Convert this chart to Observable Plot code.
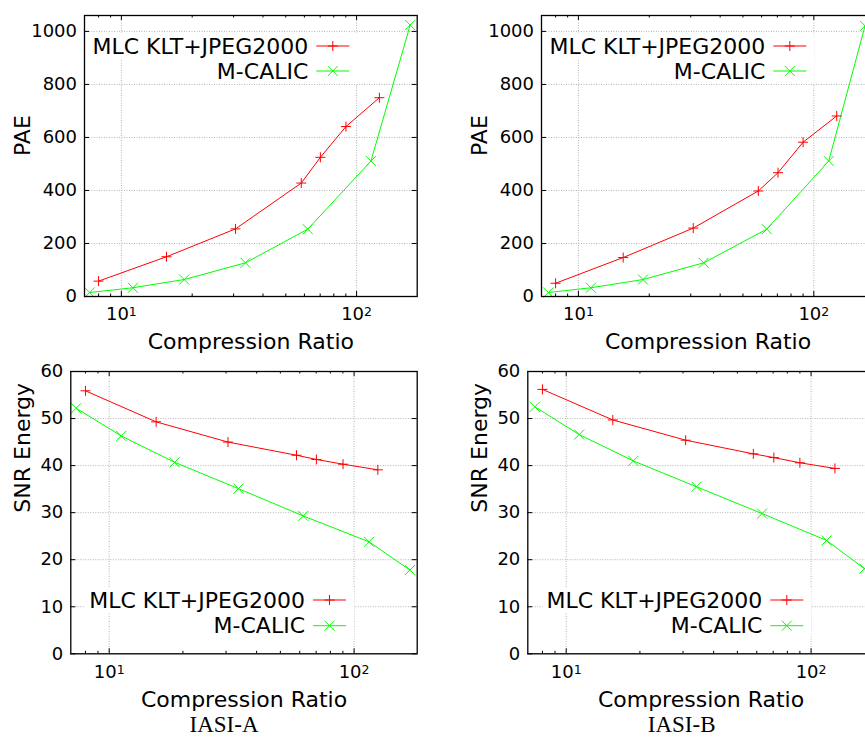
<!DOCTYPE html>
<html><head><meta charset="utf-8">
<script src="https://cdn.jsdelivr.net/npm/d3@7"></script>
<script src="https://cdn.jsdelivr.net/npm/@observablehq/plot@0.6"></script>
<style>
body{margin:0;background:#fff;overflow:hidden}
#wrap{position:relative;width:865px;height:738px;overflow:hidden;background:#fff}
.panel{position:absolute}
.cap{position:absolute;width:200px;text-align:center;font-family:"Liberation Serif","Times New Roman",serif;font-size:23px;line-height:23px;color:#000}
</style></head><body><div id="wrap"></div>
<script>
// ---- data ----
const seriesNames = ["MLC KLT+JPEG2000", "M-CALIC"];
const xTickValues = [10, 100];
const xMinorValues = [8, 9, 20, 30, 40, 50, 60, 70, 80, 90];
const paeTicks = [0, 200, 400, 600, 800, 1000];
const snrTicks = [0, 10, 20, 30, 40, 50, 60];
const panelCaptions = ["IASI-A", "IASI-B"];
const xLabel = "Compression Ratio";
const yLabels = ["PAE", "SNR Energy"];

// IASI-A
const ratioA_mlc   = [8.0, 15.55, 30.55, 58.2, 70.15, 90.1, 125.0];
const ratioA_calic = [7.33, 11.2, 18.5, 33.7, 62.0, 115.1, 169.0];
const paeA_mlc     = [58, 150, 255, 428, 525, 641, 750];
const paeA_calic   = [15, 33, 64, 127, 254, 511, 1024];
const snrA_mlc     = [55.9, 49.3, 45.0, 42.2, 41.3, 40.3, 39.1];
const snrA_calic   = [52.2, 46.3, 40.7, 35.1, 29.3, 23.8, 17.8];

// IASI-B
const ratioB_mlc   = [8.0, 15.5, 30.75, 58.1, 70.45, 90.0, 125.1];
const ratioB_calic = [7.45, 11.3, 18.8, 34.05, 63.1, 115.7, 165.0];
const paeB_mlc     = [50, 147, 258, 398, 467, 582, 681];
const paeB_calic   = [15, 33, 64, 127, 254, 511, 1021];
const snrB_mlc     = [56.2, 49.7, 45.4, 42.5, 41.7, 40.6, 39.4];
const snrB_calic   = [52.5, 46.6, 41.0, 35.5, 29.8, 24.1, 18.1];

// ---- styling ----
const xDomain = [6.97, 181];
const RED = "#ff0000", GREEN = "#00ff00";
const plusSym = {draw(ctx, size) { const r = Math.sqrt(size / Math.PI); ctx.moveTo(-r, 0); ctx.lineTo(r, 0); ctx.moveTo(0, -r); ctx.lineTo(0, r); }};
const timesSym = {draw(ctx, size) { const r = Math.sqrt(size / Math.PI); ctx.moveTo(-r, -r); ctx.lineTo(r, r); ctx.moveTo(-r, r); ctx.lineTo(r, -r); }};

const wrap = document.getElementById("wrap");

function drawPanel(spec) {
  const fw = spec.width - spec.ml - spec.mr, fh = spec.height - spec.mt - spec.mb;
  const mk = (xs, ys) => xs.map((x, i) => ({x, y: ys[i]}));
  const d1 = mk(spec.x1, spec.y1), d2 = mk(spec.x2, spec.y2);
  const grid = {stroke: "#b4b4b4", strokeOpacity: 1, strokeDasharray: "1,1.5", strokeWidth: 1};
  const svg = Plot.plot({
    width: spec.width, height: spec.height,
    marginLeft: spec.ml, marginRight: spec.mr, marginTop: spec.mt, marginBottom: spec.mb,
    style: {fontFamily: "DejaVu Sans", fontSize: "18px", color: "black", background: "white", maxWidth: "none", overflow: "hidden"},
    x: {type: "log", domain: xDomain},
    y: {domain: spec.yDomain},
    marks: [
      Plot.gridX({ticks: xTickValues, ...grid}),
      Plot.gridY({ticks: spec.yTicks, ...grid}),
      Plot.tickX(xTickValues, {x: d => d, insetTop: fh - 5, stroke: "black"}),
      Plot.tickX(xTickValues, {x: d => d, insetBottom: fh - 5, stroke: "black"}),
      Plot.tickX(xMinorValues, {x: d => d, insetTop: fh - 2.5, stroke: "black"}),
      Plot.tickX(xMinorValues, {x: d => d, insetBottom: fh - 2.5, stroke: "black"}),
      Plot.tickY(spec.yTicks, {y: d => d, insetRight: fw - 5, stroke: "black"}),
      Plot.tickY(spec.yTicks, {y: d => d, insetLeft: fw - 5, stroke: "black"}),
      Plot.axisX({ticks: xTickValues, tickFormat: d => "10^" + Math.round(Math.log10(d)), tickSize: 0, tickPadding: 11, label: null}),
      Plot.axisY({ticks: spec.yTicks, tickFormat: d => String(d), tickSize: 0, tickPadding: 7.5, label: null}),
      Plot.line(d1, {x: "x", y: "y", stroke: RED, strokeWidth: 1}),
      Plot.line(d2, {x: "x", y: "y", stroke: GREEN, strokeWidth: 1}),
      Plot.dot(d1, {x: "x", y: "y", symbol: plusSym, r: 5, stroke: RED, fill: "none", strokeWidth: 1}),
      Plot.dot(d2, {x: "x", y: "y", symbol: timesSym, r: 5, stroke: GREEN, fill: "none", strokeWidth: 1}),
      Plot.frame({stroke: "black", strokeWidth: 1.3}),
      Plot.text([xLabel], {frameAnchor: "bottom", dy: 52.7, lineAnchor: "bottom", fontSize: 22}),
      Plot.text([spec.yLabel], {frameAnchor: "left", dx: spec.ylabDx, rotate: -90, fontSize: 22, lineAnchor: "middle"})
    ]
  });
  const holder = document.createElement("div");
  holder.className = "panel";
  holder.style.left = spec.left + "px";
  holder.style.top = spec.top + "px";
  holder.style.width = spec.width + "px";
  holder.style.height = spec.height + "px";
  holder.appendChild(svg);
  wrap.appendChild(holder);

  // superscript exponents on the x tick labels
  d3.select(svg).selectAll('g[aria-label="x-axis tick label"] text').each(function () {
    const parts = this.textContent.split("^");
    const s = d3.select(this);
    s.text(null);
    s.append("tspan").text(parts[0]);
    s.append("tspan").attr("dy", -4).attr("font-size", 12.5).text(parts[1]);
  });

  // key
  const key = d3.select(svg).append("g").attr("font-family", "DejaVu Sans").attr("font-size", 22);
  const boxes = key.append("g");
  const colors = [RED, GREEN];
  const syms = ["M-5,0H5M0,-5V5", "M-5,-5L5,5M-5,5L5,-5"];
  seriesNames.forEach((name, i) => {
    const cy = spec.mt + spec.legTop + i * spec.legGap;
    const tx = spec.ml + spec.legX;
    const t = key.append("text").attr("x", tx).attr("y", cy + 7.5).attr("text-anchor", "end").attr("fill", "black").text(name);
    const w = t.node().getComputedTextLength();
    const x0 = Math.max(spec.ml + 1, tx - w - 4);
    boxes.append("rect").attr("x", x0).attr("y", cy - 13).attr("width", tx + 49 - x0).attr("height", 26).attr("fill", "white");
    key.append("line").attr("x1", tx + 8).attr("x2", tx + 41).attr("y1", cy).attr("y2", cy).attr("stroke", colors[i]).attr("stroke-width", 1);
    key.append("path").attr("transform", `translate(${tx + 24.5},${cy})`).attr("d", syms[i]).attr("stroke", colors[i]).attr("fill", "none").attr("stroke-width", 1);
  });
}

const panels = [
  {left: 0, top: 0, width: 430, height: 355, ml: 84, mr: 13.3, mt: 15, mb: 59,
   yDomain: [0, 1060], yTicks: paeTicks, yLabel: yLabels[0], ylabDx: -61.3,
   x1: ratioA_mlc, y1: paeA_mlc, x2: ratioA_calic, y2: paeA_calic, legX: 224.3, legTop: 31, legGap: 25},
  {left: 430, top: 0, width: 445, height: 355, ml: 111, mr: 1, mt: 15, mb: 59,
   yDomain: [0, 1060], yTicks: paeTicks, yLabel: yLabels[0], ylabDx: -61.7,
   x1: ratioB_mlc, y1: paeB_mlc, x2: ratioB_calic, y2: paeB_calic, legX: 224.3, legTop: 31, legGap: 25},
  {left: 0, top: 355, width: 430, height: 358, ml: 70.3, mr: 13.3, mt: 16, mb: 59.7,
   yDomain: [0, 60], yTicks: snrTicks, yLabel: yLabels[1], ylabDx: -47.6,
   x1: ratioA_mlc, y1: snrA_mlc, x2: ratioA_calic, y2: snrA_calic, legX: 234.7, legTop: 229, legGap: 25.7},
  {left: 430, top: 355, width: 445, height: 358, ml: 97.3, mr: 1.3, mt: 16, mb: 59.7,
   yDomain: [0, 60], yTicks: snrTicks, yLabel: yLabels[1], ylabDx: -48,
   x1: ratioB_mlc, y1: snrB_mlc, x2: ratioB_calic, y2: snrB_calic, legX: 235, legTop: 229, legGap: 25.7}
];
panels.forEach(drawPanel);

// captions under each column
const capCenters = [224, 681.7];
panelCaptions.forEach((c, i) => {
  const d = document.createElement("div");
  d.className = "cap";
  d.style.left = (capCenters[i] - 100) + "px";
  d.style.top = "713px";
  d.textContent = c;
  wrap.appendChild(d);
});
</script></body></html>
